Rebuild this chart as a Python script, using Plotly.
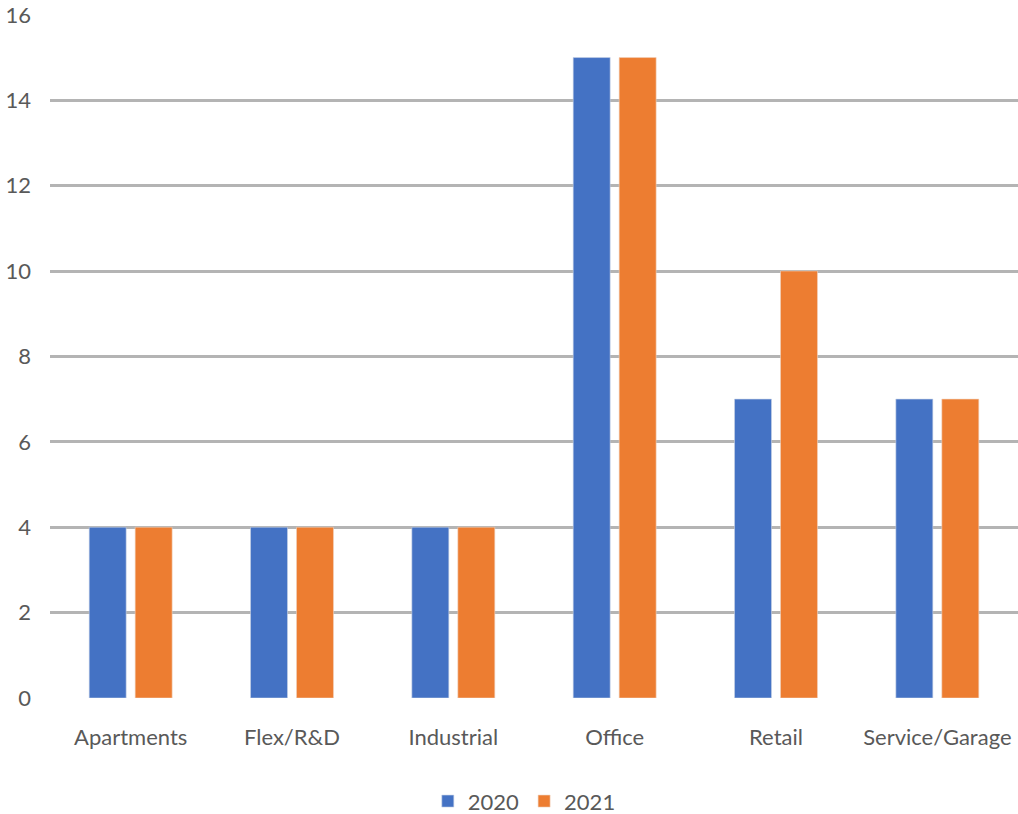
import plotly.graph_objects as go

# Property categories and counts per year
categories = ["Apartments", "Flex/R&D", "Industrial", "Office", "Retail", "Service/Garage"]
values_2020 = [4, 4, 4, 15, 7, 7]
values_2021 = [4, 4, 4, 15, 10, 7]
y_ticks = [0, 2, 4, 6, 8, 10, 12, 14, 16]

font_family = "Lato, 'Open Sans', sans-serif"
text_color = "#595959"

fig = go.Figure()
fig.add_trace(go.Bar(name="2020", x=categories, y=values_2020, marker_color="#4472C4",
                     marker_line=dict(color="rgba(200,210,230,0.6)", width=1)))
fig.add_trace(go.Bar(name="2021", x=categories, y=values_2021, marker_color="#ED7D31",
                     marker_line=dict(color="rgba(240,210,190,0.6)", width=1)))

fig.update_layout(
    width=1018,
    height=814,
    margin=dict(l=50, r=0, t=14, b=116, autoexpand=False),
    paper_bgcolor="white",
    plot_bgcolor="white",
    barmode="group",
    bargap=0.43,
    bargroupgap=0.196,
    font=dict(family=font_family, size=22, color=text_color),
    legend=dict(
        orientation="h",
        x=0.49,
        xanchor="center",
        y=-0.151,
        yanchor="middle",
        font=dict(size=22, color=text_color),
        itemwidth=30,
        tracegroupgap=0,
    ),
)

fig.update_xaxes(
    showgrid=False,
    showline=False,
    zeroline=False,
    ticks="",
    ticklabelstandoff=24,
    tickfont=dict(size=22, color=text_color),
)
fig.update_yaxes(
    range=[0, 16.02],
    tickvals=y_ticks,
    showgrid=True,
    gridcolor="#b4b4b4",
    gridwidth=2.5,
    zeroline=False,
    showline=False,
    ticks="",
    ticklabelstandoff=18,
    tickfont=dict(size=22, color=text_color),
)

fig.write_html("out.html")
